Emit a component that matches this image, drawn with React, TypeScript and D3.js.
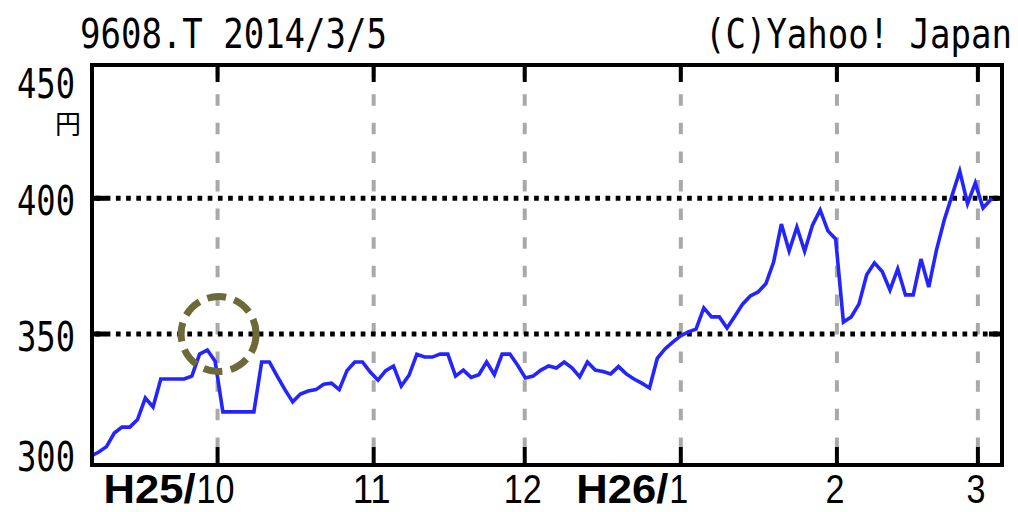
import React from "react";
import * as d3 from "d3";

// ---- data (trading days, closing price in yen) ----
const DATES = [
  "2013-09-06","2013-09-09","2013-09-10","2013-09-11","2013-09-12","2013-09-13",
  "2013-09-17","2013-09-18","2013-09-19","2013-09-20","2013-09-24","2013-09-25",
  "2013-09-26","2013-09-27","2013-09-30",
  "2013-10-01","2013-10-02","2013-10-03","2013-10-04","2013-10-07","2013-10-08",
  "2013-10-09","2013-10-10","2013-10-11","2013-10-15","2013-10-16","2013-10-17",
  "2013-10-18","2013-10-21","2013-10-22","2013-10-23","2013-10-24","2013-10-25",
  "2013-10-28","2013-10-29","2013-10-30","2013-10-31",
  "2013-11-01","2013-11-05","2013-11-06","2013-11-07","2013-11-08","2013-11-11",
  "2013-11-12","2013-11-13","2013-11-14","2013-11-15","2013-11-18","2013-11-19",
  "2013-11-20","2013-11-21","2013-11-22","2013-11-25","2013-11-26","2013-11-27",
  "2013-11-28","2013-11-29",
  "2013-12-02","2013-12-03","2013-12-04","2013-12-05","2013-12-06","2013-12-09",
  "2013-12-10","2013-12-11","2013-12-12","2013-12-13","2013-12-16","2013-12-17",
  "2013-12-18","2013-12-19","2013-12-20","2013-12-24","2013-12-25","2013-12-26",
  "2013-12-27","2013-12-30",
  "2014-01-06","2014-01-07","2014-01-08","2014-01-09","2014-01-10","2014-01-14",
  "2014-01-15","2014-01-16","2014-01-17","2014-01-20","2014-01-21","2014-01-22",
  "2014-01-23","2014-01-24","2014-01-27","2014-01-28","2014-01-29","2014-01-30",
  "2014-01-31",
  "2014-02-03","2014-02-04","2014-02-05","2014-02-06","2014-02-07","2014-02-10",
  "2014-02-12","2014-02-13","2014-02-14","2014-02-17","2014-02-18","2014-02-19",
  "2014-02-20","2014-02-21","2014-02-24","2014-02-25","2014-02-26","2014-02-27",
  "2014-02-28",
  "2014-03-03","2014-03-04",
];

const CLOSE = [
  305, 306.5, 308.5, 313.5, 315.7, 315.7,
  318.5, 326.4, 323.1, 333.4, 333.4, 333.4,
  333.4, 334.5, 342.6,
  344.1, 340, 321.3, 321.3, 321.3, 321.3,
  321.3, 339.7, 339.7, 334.5, 329.5, 325,
  327.9, 329, 329.5, 331.5, 331.9, 329.5,
  336.5, 339.7, 339.7, 336,
  333, 336.5, 338.2, 330.8, 334.8, 342.5,
  341.5, 341.5, 342.6, 342.6, 334.5, 336.7,
  334, 335, 339.7, 335, 342.6, 342.6,
  338.5, 333.8,
  334.5, 336.7, 338.2, 337.5, 339.7, 337.5,
  334.2, 339.7, 336.7, 336.2, 335.3, 338,
  335.3, 333.4, 331.9, 330.1, 341, 344.5,
  347, 349.3,
  350.8, 351.8, 359.6, 356.3, 356.3, 352.2,
  356.5, 361, 364, 365.5, 368.5, 376.5,
  390.5, 380.6, 389.4, 380.5, 390, 395.7,
  388,
  385, 354.4, 356.3, 361, 371.8, 376.2,
  373, 366.2, 374, 364.4, 364.4, 377.6,
  367.3, 381, 392, 401, 410, 398,
  405.6,
  396.4, 399.5,
];

const MONTH_TICKS = ["2013-10-01", "2013-11-01", "2013-12-01", "2014-01-01", "2014-02-01", "2014-03-01"];
const TICK_ERA = ["H25/", "", "", "H26/", "", ""];
const TICK_MONTH = ["10", "11", "12", "1", "2", "3"];
const Y_TICKS = [300, 350, 400, 450];
const Y_GRID = [350, 400];
const Y_DOMAIN = [300, 450];
const TITLE_LEFT = "9608.T 2014/3/5";
const TITLE_RIGHT = "(C)Yahoo! Japan";
const UNIT = "円";
const MARK_DATE = "2013-10-01";
const MARK_VALUE = 350;

export default function App() {
  const W = 1018, H = 512;
  const fr = { l: 92, t: 65, r: 1002, b: 465 }; // frame stroke centre
  const inner = { l: 94, t: 67, r: 1000, b: 463 };
  const parse = d3.utcParse("%Y-%m-%d");

  const y = d3.scaleLinear().domain(Y_DOMAIN).range([469.7, 62.6]);
  const xIdx = d3.scalePoint<string>().domain(DATES).range([91, 990.8]);
  const xCal = d3
    .scaleUtc()
    .domain([parse(DATES[0])!, parse(DATES[DATES.length - 1])!])
    .range([91.7, 993]);

  const pts = DATES.map((d, i) => ({ d, v: CLOSE[i] }));
  const line = d3
    .line<{ d: string; v: number }>()
    .x((p) => xIdx(p.d)!)
    .y((p) => y(p.v));

  const monoFont = "'DejaVu Sans Mono', 'Liberation Mono', monospace";
  const sansFont = "'Liberation Sans', Arial, sans-serif";

  return (
    <svg
      width={W}
      height={H}
      viewBox={`0 0 ${W} ${H}`}
      style={{ position: "fixed", left: 0, top: 0, background: "#fff" }}
    >
      <rect x={0} y={0} width={W} height={H} fill="#fff" />
      <defs>
        <clipPath id="plotClip">
          <rect x={inner.l} y={inner.t} width={inner.r - inner.l} height={inner.b - inner.t} />
        </clipPath>
      </defs>

      {/* titles */}
      <text transform="translate(80,48) scale(1,1.22)" fontFamily={monoFont} fontSize={34} fill="#000">
        {TITLE_LEFT}
      </text>
      <text transform="translate(705,48) scale(1,1.22)" fontFamily={monoFont} fontSize={34} fill="#000">
        {TITLE_RIGHT}
      </text>

      {/* vertical month gridlines */}
      {MONTH_TICKS.map((m) => {
        const gx = xCal(parse(m)!);
        return (
          <g key={m}>
            <line x1={gx} x2={gx} y1={65.6} y2={447} stroke="#a9a9a9" strokeWidth={4} strokeDasharray="11.5 17.1" />
            <line x1={gx} x2={gx} y1={inner.t} y2={82} stroke="#000" strokeWidth={4} />
            <line x1={gx} x2={gx} y1={447} y2={inner.b} stroke="#000" strokeWidth={4} />
          </g>
        );
      })}

      {/* horizontal dotted gridlines */}
      {Y_GRID.map((v) => (
        <g key={v}>
          <line x1={95.5} x2={inner.r} y1={y(v)} y2={y(v)} stroke="#000" strokeWidth={5} strokeDasharray="4.7 5.5" />
          <line x1={inner.l} x2={106} y1={y(v)} y2={y(v)} stroke="#000" strokeWidth={5} />
          <line x1={989} x2={inner.r} y1={y(v)} y2={y(v)} stroke="#000" strokeWidth={5} />
        </g>
      ))}

      {/* price line */}
      <g clipPath="url(#plotClip)">
        <path d={line(pts)!} fill="none" stroke="#2424ff" strokeWidth={3.6} strokeLinejoin="miter" strokeLinecap="square" />
      </g>

      {/* frame */}
      <rect x={fr.l} y={fr.t} width={fr.r - fr.l} height={fr.b - fr.t} fill="none" stroke="#000" strokeWidth={4} />

      {/* annotation circle */}
      <circle
        cx={xCal(parse(MARK_DATE)!) + 1}
        cy={y(MARK_VALUE)}
        r={37.5}
        fill="none"
        stroke="#6b6a38"
        strokeWidth={7}
        strokeDasharray="19 8.5"
      />

      {/* y labels */}
      {Y_TICKS.map((v) => {
        const cy = Math.min(Math.max(y(v) + 3, 84), 457);
        return (
          <text key={v} x={17} y={cy + 14} fontFamily={monoFont} fontSize={40} textLength={58} lengthAdjust="spacingAndGlyphs" fill="#000">
            {String(v)}
          </text>
        );
      })}
      <text x={55} y={134} fontFamily="'Noto Sans CJK JP', sans-serif" fontSize={26} fill="#000">
        {UNIT}
      </text>

      {/* x labels */}
      {MONTH_TICKS.map((m, i) => {
        const gx = xCal(parse(m)!) - 2;
        const num = TICK_MONTH[i];
        const numW = num.length * 19;
        return (
          <g key={m}>
            <text x={gx} y={503} textAnchor="middle" fontFamily={sansFont} fontSize={40} textLength={numW} lengthAdjust="spacingAndGlyphs" fill="#000">
              {num}
            </text>
            {TICK_ERA[i] && (
              <text x={gx - numW / 2 - 93} y={503} fontFamily={sansFont} fontWeight="bold" fontSize={40} textLength={92} lengthAdjust="spacingAndGlyphs" fill="#000">
                {TICK_ERA[i]}
              </text>
            )}
          </g>
        );
      })}
    </svg>
  );
}
